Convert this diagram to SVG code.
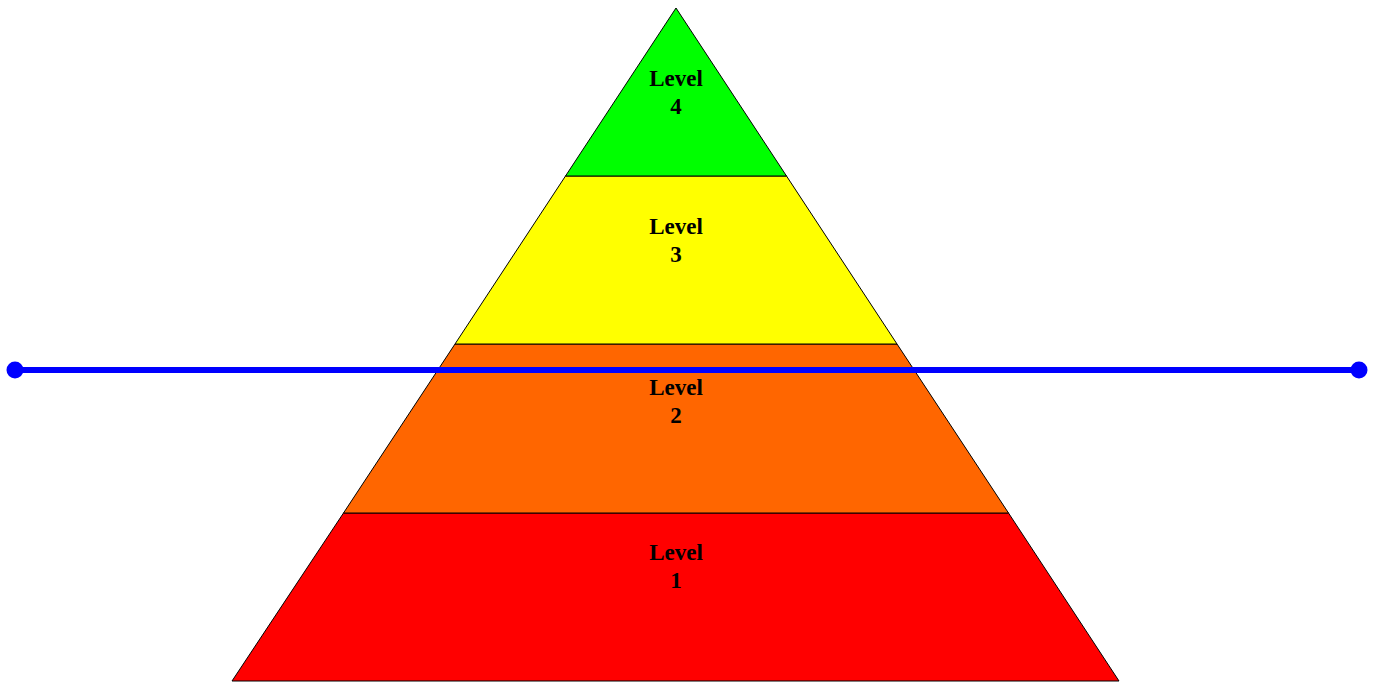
<svg xmlns="http://www.w3.org/2000/svg" width="1377" height="682" viewBox="0 0 1377 682">
<style>
.layer{stroke:#000;stroke-width:1}
.lbl{font-family:"Liberation Serif",serif;font-weight:bold;font-size:23px;fill:#000;text-anchor:middle}
.conn{stroke:#0000ff;stroke-width:6;fill:none}
.dot{fill:#0000ff}
</style>
<rect width="1377" height="682" fill="#fff"/>
<g id="level1">
<polygon class="layer" points="343.5,513 1008.5,513 1119,681 232,681" fill="#ff0000"/>
<text class="lbl" x="676" y="560">Level</text>
<text class="lbl" x="676" y="588">1</text>
</g>
<g id="level2">
<polygon class="layer" points="455,344 897,344 1008.5,513 343.5,513" fill="#ff6600"/>
<text class="lbl" x="676" y="395">Level</text>
<text class="lbl" x="676" y="423">2</text>
</g>
<g id="level3">
<polygon class="layer" points="565.5,176 786.5,176 897,344 455,344" fill="#ffff00"/>
<text class="lbl" x="676" y="234">Level</text>
<text class="lbl" x="676" y="262">3</text>
</g>
<g id="level4">
<polygon class="layer" points="676,8 786.5,176 565.5,176" fill="#00ff00"/>
<text class="lbl" x="676" y="86">Level</text>
<text class="lbl" x="676" y="114">4</text>
</g>
<g id="connectors">
<line class="conn" x1="15" y1="370" x2="1359" y2="370"/>
<circle class="dot" cx="15" cy="370" r="8.5"/>
<circle class="dot" cx="1359" cy="370" r="8.5"/>
</g>
</svg>
